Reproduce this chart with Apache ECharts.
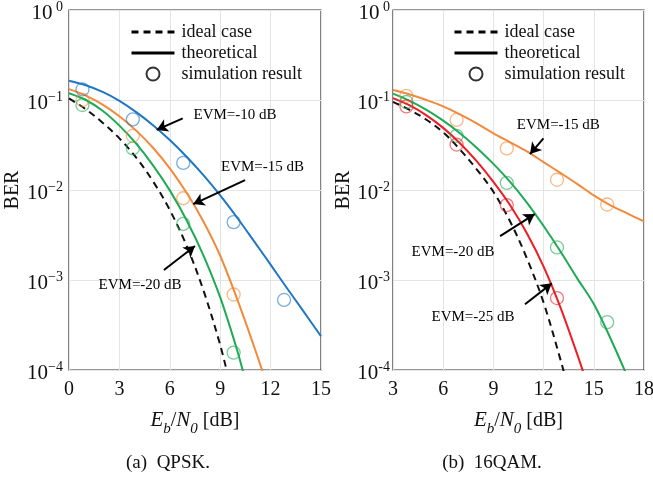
<!DOCTYPE html>
<html>
<head>
<meta charset="utf-8">
<script src="https://cdn.jsdelivr.net/npm/echarts@6/dist/echarts.min.js"></script>
<style>
  html, body { margin: 0; padding: 0; background: #fff; }
  #chart { width: 653px; height: 482px; }
</style>
</head>
<body>
<div id="chart"></div>
<script>
// ---- data ----
// (a) QPSK
const qpskIdealX = [0, 1, 2, 3, 4, 5, 6, 7, 8, 9, 9.5]
const qpskIdeal = [0.104, 0.079, 0.056, 0.0375, 0.0229, 0.0125, 0.0060, 0.0024, 0.00077, 0.00019, 0.00008]
const qpskEvm10X = [0, 1, 2, 3, 4, 5, 6, 7, 8, 9, 10, 11, 12, 13, 14, 15]
const qpskEvm10 = [0.164, 0.146, 0.123, 0.098, 0.0733, 0.0525, 0.0359, 0.0234, 0.0146, 0.0087, 0.00495, 0.00272, 0.00148, 0.0008, 0.000437, 0.000237]
const qpskEvm15X = [0, 1, 2, 3, 4, 5, 6, 7, 8, 9, 10, 11, 11.6]
const qpskEvm15 = [0.132, 0.112, 0.089, 0.066, 0.0457, 0.0295, 0.0174, 0.0093, 0.00447, 0.00186, 0.00062, 0.000186, 0.000087]
const qpskEvm20X = [0, 1, 2, 3, 4, 5, 6, 7, 8, 9, 10, 10.5]
const qpskEvm20 = [0.119, 0.100, 0.076, 0.0519, 0.0327, 0.0188, 0.0099, 0.00462, 0.00188, 0.00064, 0.000168, 0.000076]
const qpskSimX = [0.8, 3.8, 6.8, 9.8, 12.8]
const qpskSim10 = [0.131, 0.061, 0.020, 0.0044, 0.00060]
const qpskSim15 = [0.100, 0.040, 0.0081, 0.00069]
const qpskSim20 = [0.088, 0.029, 0.0042, 0.000156]

// (b) 16QAM
const qamIdealX = [3, 4, 5, 6, 7, 8, 9, 10, 11, 12, 13, 13.4]
const qamIdeal = [0.0955, 0.0776, 0.0603, 0.0437, 0.0282, 0.017, 0.00955, 0.00447, 0.00174, 0.00056, 0.000132, 0.00007]
const qamEvm15X = [3, 4, 5, 6, 7, 8, 9, 10, 11, 12, 13, 14, 15, 16, 17, 18]
const qamEvm15 = [0.129, 0.115, 0.100, 0.0851, 0.0692, 0.055, 0.0427, 0.0339, 0.0269, 0.0204, 0.0155, 0.0117, 0.0087, 0.00676, 0.0055, 0.00447]
const qamEvm20X = [3, 4, 5, 6, 7, 8, 9, 10, 11, 12, 13, 14, 15, 16, 17]
const qamEvm20 = [0.1175, 0.0977, 0.0776, 0.0589, 0.0427, 0.0295, 0.0195, 0.0123, 0.00724, 0.00398, 0.00209, 0.00105, 0.00054, 0.000224, 0.000085]
const qamEvm25X = [3, 4, 5, 6, 7, 8, 9, 10, 11, 12, 13, 14, 14.5]
const qamEvm25 = [0.105, 0.087, 0.0676, 0.049, 0.0331, 0.0209, 0.0123, 0.00676, 0.00331, 0.00141, 0.0005, 0.000151, 0.00008]
const qamSimX = [3.8, 6.8, 9.8, 12.8, 15.8]
const qamSim15 = [0.111, 0.060, 0.029, 0.013, 0.0069]
const qamSim20 = [0.095, 0.040, 0.012, 0.0023, 0.00034]
const qamSim25 = [0.085, 0.032, 0.0068, 0.00063]

// axis ticks
const qpskXTicks = [0, 3, 6, 9, 12, 15]
const qamXTicks = [3, 6, 9, 12, 15, 18]
const qpskYExp = [' 0', '\u22121', '\u22122', '\u22123', '\u22124']
const qamYExp = [' 0', '-1', '-2', '-3', '-4']

// annotations: label spot, arrow tail, arrow head (data coords)
const qpskNotes = [
  { text: 'EVM=-10 dB', at: [9.88, 0.068], from: [6.77, 0.0625], to: [5.22, 0.0465] },
  { text: 'EVM=-15 dB', at: [11.52, 0.01815], from: [10.48, 0.0129], to: [7.40, 0.00698] },
  { text: 'EVM=-20 dB', at: [4.23, 0.00088], from: [5.65, 0.00129], to: [7.5, 0.00239] }
]
const qamNotes = [
  { text: 'EVM=-15 dB', at: [12.88, 0.0527], from: [11.99, 0.0375], to: [11.19, 0.0251] },
  { text: 'EVM=-20 dB', at: [6.59, 0.00207], from: [9.40, 0.00308], to: [11.47, 0.0054] },
  { text: 'EVM=-25 dB', at: [7.78, 0.000392], from: [10.89, 0.000537], to: [12.49, 0.000918] }
]

const legendNames = ['ideal case', 'theoretical', 'simulation result']

// ---- styling ----
const SERIF = "'Liberation Serif', 'Times New Roman', serif"
const BLUE = '#1f77c4'
const ORANGE = '#f28a3c'
const GREEN = '#1faa55'
const RED = '#ee1c25'

const zip = (xs, ys) => ys.map((y, i) => [xs[i], y])

function fade(hex, a) {
  const n = parseInt(hex.slice(1), 16)
  return `rgba(${(n >> 16) & 255},${(n >> 8) & 255},${n & 255},${a})`
}

function curve(name, idx, xs, ys, color, dashed) {
  return {
    name, type: 'line', xAxisIndex: idx, yAxisIndex: idx,
    data: zip(xs, ys), smooth: 0.35, symbol: 'none', clip: true,
    lineStyle: { color, width: 2, type: dashed ? [7, 5] : 'solid' },
    z: 3
  }
}

function sim(name, idx, xs, ys, color) {
  return {
    name, type: 'scatter', xAxisIndex: idx, yAxisIndex: idx,
    data: zip(xs, ys), symbol: 'circle', symbolSize: 13,
    itemStyle: { color: 'rgba(0,0,0,0)', borderColor: fade(color, 0.75), borderWidth: 1.3 },
    z: 4
  }
}

function notes(idx, list) {
  return {
    name: 'notes' + idx, type: 'line', xAxisIndex: idx, yAxisIndex: idx, data: [],
    markLine: {
      silent: true, animation: false,
      symbol: ['none', 'arrow'], symbolSize: [10, 11],
      lineStyle: { color: '#000', width: 2, type: 'solid' },
      label: { show: false },
      data: list.map(n => [{ coord: n.from }, { coord: n.to }])
    },
    markPoint: {
      silent: true, animation: false,
      symbol: 'circle', symbolSize: 0,
      label: { show: true, position: 'inside', color: '#000', fontFamily: SERIF, fontSize: 15, formatter: p => p.name },
      data: list.map(n => ({ name: n.text, coord: n.at }))
    }
  }
}

function expLabel(exps) {
  return v => {
    const k = Math.round(-Math.log10(v))
    return '{b|10}{s|' + exps[k] + '}'
  }
}

function xAxis(idx, ticks) {
  return {
    type: 'value', gridIndex: idx,
    min: ticks[0], max: ticks[ticks.length - 1], interval: ticks[1] - ticks[0],
    axisLine: { show: false }, axisTick: { show: false },
    axisLabel: { color: '#111', fontFamily: SERIF, fontSize: 20, margin: 10 },
    splitLine: { show: true, lineStyle: { color: '#e4e4e4', width: 1 } },
    name: '{i|E}{sub|b}{n|/}{i|N}{sub|0}{n| [dB]}',
    nameLocation: 'middle', nameGap: 37,
    nameTextStyle: {
      fontFamily: SERIF,
      rich: {
        i: { fontFamily: SERIF, fontStyle: 'italic', fontSize: 21, color: '#111', lineHeight: 24, verticalAlign: 'bottom' },
        n: { fontFamily: SERIF, fontSize: 20, color: '#111', lineHeight: 24, verticalAlign: 'bottom' },
        sub: { fontFamily: SERIF, fontStyle: 'italic', fontSize: 15, color: '#111', lineHeight: 14, verticalAlign: 'bottom', padding: [0, 0, -6, 0] }
      }
    }
  }
}

function yAxis(idx, exps, gap, margin) {
  return {
    type: 'log', logBase: 10, gridIndex: idx, min: 0.0001, max: 1,
    axisLine: { show: false }, axisTick: { show: false }, minorTick: { show: false },
    axisLabel: {
      formatter: expLabel(exps), margin, fontFamily: SERIF,
      rich: {
        b: { fontFamily: SERIF, fontSize: 21, color: '#111', lineHeight: 24, verticalAlign: 'bottom', padding: [0, 0, -2, 0] },
        s: { fontFamily: SERIF, fontSize: 14, color: '#111', lineHeight: 14, verticalAlign: 'top', padding: [2, 0, 0, 0] }
      }
    },
    splitLine: { show: true, lineStyle: { color: '#e4e4e4', width: 1 } },
    name: 'BER', nameLocation: 'middle', nameGap: gap, nameRotate: 90,
    nameTextStyle: { fontFamily: SERIF, fontSize: 20, color: '#111' }
  }
}

function legend(left) {
  return {
    orient: 'vertical', left, top: 23, padding: 0,
    itemWidth: 43, itemHeight: 13, itemGap: 3,
    textStyle: { fontFamily: SERIF, fontSize: 18, color: '#111', lineHeight: 18, padding: [0, 0, 0, 2] },
    selectedMode: false,
    data: [
      { name: legendNames[0], lineStyle: { width: 3 }, itemStyle: { opacity: 0 } },
      { name: legendNames[1], lineStyle: { width: 3 }, itemStyle: { opacity: 0 } },
      { name: legendNames[2] }
    ]
  }
}

const chart = echarts.init(document.getElementById('chart'), null, { renderer: 'canvas' })

chart.setOption({
  animation: false,
  backgroundColor: '#fff',
  textStyle: { fontFamily: SERIF },
  grid: [
    { left: 69, top: 10, width: 252, height: 360, outerBoundsMode: 'none', show: true, borderColor: '#333', borderWidth: 1.2, backgroundColor: 'transparent' },
    { left: 393, top: 10, width: 251, height: 360, outerBoundsMode: 'none', show: true, borderColor: '#333', borderWidth: 1.2, backgroundColor: 'transparent' }
  ],
  xAxis: [xAxis(0, qpskXTicks), xAxis(1, qamXTicks)],
  yAxis: [yAxis(0, qpskYExp, 42, 6), yAxis(1, qamYExp, 36, 3)],
  legend: [legend(130), legend(453)],
  graphic: [
    { type: 'text', style: { text: '(a)  QPSK.', x: 168, y: 463, align: 'center', verticalAlign: 'middle', fontFamily: SERIF, fontSize: 19, fill: '#111' } },
    { type: 'text', style: { text: '(b)  16QAM.', x: 492, y: 463, align: 'center', verticalAlign: 'middle', fontFamily: SERIF, fontSize: 19, fill: '#111' } }
  ],
  series: [
    // legend-only entries
    { name: legendNames[0], type: 'line', data: [], symbol: 'none', lineStyle: { color: '#000', width: 3, type: [7, 5] }, itemStyle: { color: '#000' } },
    { name: legendNames[1], type: 'line', data: [], symbol: 'none', lineStyle: { color: '#000', width: 3 }, itemStyle: { color: '#000' } },
    { name: legendNames[2], type: 'scatter', data: [], symbol: 'circle', symbolSize: 13, itemStyle: { color: 'rgba(0,0,0,0)', borderColor: '#000', borderWidth: 1.3 } },

    curve('QPSK ideal', 0, qpskIdealX, qpskIdeal, '#111', true),
    curve('QPSK EVM -10', 0, qpskEvm10X, qpskEvm10, BLUE),
    curve('QPSK EVM -15', 0, qpskEvm15X, qpskEvm15, ORANGE),
    curve('QPSK EVM -20', 0, qpskEvm20X, qpskEvm20, GREEN),
    sim('QPSK sim -10', 0, qpskSimX, qpskSim10, BLUE),
    sim('QPSK sim -15', 0, qpskSimX, qpskSim15, ORANGE),
    sim('QPSK sim -20', 0, qpskSimX, qpskSim20, GREEN),
    notes(0, qpskNotes),

    curve('16QAM ideal', 1, qamIdealX, qamIdeal, '#111', true),
    curve('16QAM EVM -15', 1, qamEvm15X, qamEvm15, ORANGE),
    curve('16QAM EVM -20', 1, qamEvm20X, qamEvm20, GREEN),
    curve('16QAM EVM -25', 1, qamEvm25X, qamEvm25, RED),
    sim('16QAM sim -15', 1, qamSimX, qamSim15, ORANGE),
    sim('16QAM sim -20', 1, qamSimX, qamSim20, GREEN),
    sim('16QAM sim -25', 1, qamSimX, qamSim25, RED),
    notes(1, qamNotes)
  ]
})
</script>
</body>
</html>
